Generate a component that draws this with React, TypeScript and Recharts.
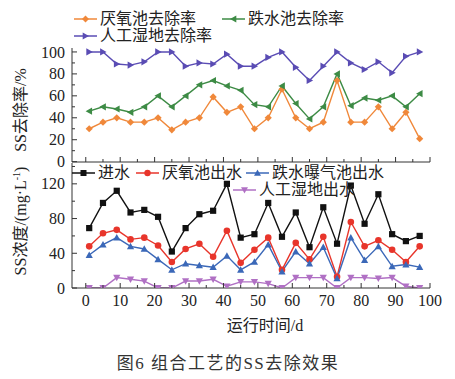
import { LineChart, Line, XAxis, YAxis } from 'recharts'

// sampling days (d)
const days = [1, 5, 9, 13, 17, 21, 25, 29, 33, 37, 41, 45, 49, 53, 57, 61, 65, 69, 73, 77, 81, 85, 89, 93, 97]

// removal rate, %
const anaerobicRate = [30, 36, 40, 36, 36, 40, 29, 36, 40, 59, 45, 50, 30, 40, 66, 40, 30, 36, 74, 36, 36, 50, 30, 45, 21]
const dropRate = [46, 50, 48, 45, 50, 60, 50, 60, 70, 74, 69, 65, 52, 50, 69, 53, 39, 50, 80, 51, 58, 56, 60, 50, 62]
const wetlandRate = [100, 100, 89, 88, 91, 100, 100, 87, 90, 89, 98, 87, 87, 95, 100, 86, 74, 87, 100, 90, 84, 91, 81, 96, 100]

// SS concentration, mg/L
const inflow = [69, 98, 112, 87, 90, 82, 42, 69, 85, 89, 120, 58, 62, 98, 59, 87, 47, 93, 51, 118, 74, 108, 62, 54, 60]
const anaerobicOut = [48, 63, 67, 56, 58, 49, 30, 45, 51, 36, 66, 29, 44, 58, 21, 52, 33, 59, 13, 76, 48, 55, 44, 30, 48]
const dropOut = [38, 50, 58, 48, 45, 33, 21, 28, 26, 24, 37, 21, 30, 50, 19, 42, 28, 47, 11, 58, 32, 48, 25, 27, 24]
const wetlandOut = [0, 0, 12, 10, 8, 0, 0, 8, 8, 10, 2, 7, 7, 5, 0, 12, 12, 12, 0, 12, 12, 11, 12, 2, 0]

const xTicks = [0, 5, 10, 15, 20, 25, 30, 35, 40, 45, 50, 55, 60, 65, 70, 75, 80, 85, 90, 95, 100]
const rateTicks = [0, 10, 20, 30, 40, 50, 60, 70, 80, 90, 100]
const concTicks = [0, 20, 40, 60, 80, 100, 120, 140]

const rateData = days.map((d, i) => ({ day: d, anaerobic: anaerobicRate[i], drop: dropRate[i], wetland: wetlandRate[i] }))
const concData = days.map((d, i) => ({ day: d, inflow: inflow[i], anaerobic: anaerobicOut[i], drop: dropOut[i], wetland: wetlandOut[i] }))

const FONT = 'Liberation Serif, DejaVu Serif, serif, Noto Sans CJK SC'
const TXT = '#222'
const AXIS = '#333'

const C = {
  orange: '#f0883a',
  green: '#3d8b45',
  purple: '#5a4cb4',
  black: '#111111',
  red: '#e8352b',
  blue: '#3b68b8',
  violet: '#b070c4'
}

function Marker({ shape, cx, cy, color, s = 3.6 }: any) {
  if (cx == null || cy == null) return null
  switch (shape) {
    case 'diamond':
      return <polygon points={`${cx},${cy - s} ${cx + s},${cy} ${cx},${cy + s} ${cx - s},${cy}`} fill={color} />
    case 'square':
      return <rect x={cx - s + 0.5} y={cy - s + 0.5} width={2 * s - 1} height={2 * s - 1} fill={color} />
    case 'circle':
      return <circle cx={cx} cy={cy} r={s - 0.3} fill={color} />
    case 'up':
      return <polygon points={`${cx},${cy - s} ${cx + s},${cy + s * 0.8} ${cx - s},${cy + s * 0.8}`} fill={color} />
    case 'down':
      return <polygon points={`${cx},${cy + s} ${cx + s},${cy - s * 0.8} ${cx - s},${cy - s * 0.8}`} fill={color} />
    case 'left':
      return <polygon points={`${cx - s},${cy} ${cx + s * 0.8},${cy - s} ${cx + s * 0.8},${cy + s}`} fill={color} />
    case 'right':
      return <polygon points={`${cx + s},${cy} ${cx - s * 0.8},${cy - s} ${cx - s * 0.8},${cy + s}`} fill={color} />
  }
  return null
}

const dot = (shape: string, color: string) => (p: any) => (
  <g key={`d-${shape}-${p.index}`}>
    <Marker shape={shape} cx={p.cx} cy={p.cy} color={color} />
  </g>
)

const xTick = (showLabel: boolean) => (p: any) => {
  const v = p.payload.value
  const major = v % 10 === 0
  return (
    <g>
      <line x1={p.x} y1={p.y} x2={p.x} y2={p.y - (major ? 5 : 3)} stroke={AXIS} />
      {showLabel && major && (
        <text x={p.x} y={p.y + 18} textAnchor="middle" fontSize={16} fontFamily={FONT} fill={TXT}>{v}</text>
      )}
    </g>
  )
}

const yTick = (step: number) => (p: any) => {
  const v = p.payload.value
  const major = v % step === 0
  return (
    <g>
      <line x1={p.x} y1={p.y} x2={p.x + (major ? 5 : 3)} y2={p.y} stroke={AXIS} />
      {major && (
        <text x={p.x - 7} y={p.y} dy="0.35em" textAnchor="end" fontSize={16} fontFamily={FONT} fill={TXT}>{String(v)}</text>
      )}
    </g>
  )
}

const topLegend = [
  { name: '厌氧池去除率', color: C.orange, shape: 'diamond', left: 74, cy: 19 },
  { name: '跌水池去除率', color: C.green, shape: 'left', left: 222, cy: 19 },
  { name: '人工湿地去除率', color: C.purple, shape: 'right', left: 74, cy: 36 }
]
const bottomLegend = [
  { name: '进水', color: C.black, shape: 'square', left: 72, cy: 173 },
  { name: '厌氧池出水', color: C.red, shape: 'circle', left: 136, cy: 173 },
  { name: '跌水曝气池出水', color: C.blue, shape: 'up', left: 246, cy: 173 },
  { name: '人工湿地出水', color: C.violet, shape: 'down', left: 233, cy: 190 }
]

function LegendItem({ item }: any) {
  return (
    <div style={{ position: 'absolute', left: item.left, top: item.cy - 10, height: 20, display: 'flex', alignItems: 'center', whiteSpace: 'nowrap' }}>
      <svg width={23} height={12}>
        <line x1={0} y1={6} x2={23} y2={6} stroke={item.color} strokeWidth={1.5} />
        <Marker shape={item.shape} cx={11.5} cy={6} color={item.color} s={3.5} />
      </svg>
      <span style={{ marginLeft: 3, fontSize: 16, fontFamily: FONT, color: TXT, lineHeight: '20px' }}>{item.name}</span>
    </div>
  )
}

export default function App() {
  return (
    <div style={{ position: 'absolute', left: 0, top: 0, width: 455, height: 379, background: '#fff', overflow: 'hidden' }}>
      <div style={{ position: 'absolute', left: 0, top: 0 }}>
        <LineChart width={455} height={379} data={concData} margin={{ top: 163, right: 25, bottom: 90, left: 71 }}>
          <XAxis dataKey="day" type="number" domain={[-4, 100]} ticks={xTicks} interval={0} height={1}
            tickSize={0} tickMargin={0} tick={xTick(true)} axisLine={{ stroke: AXIS }} allowDataOverflow />
          <YAxis type="number" domain={[0, 144]} ticks={concTicks} interval={0} width={1}
            tickSize={0} tickMargin={0} tick={yTick(40)} axisLine={{ stroke: AXIS }} allowDataOverflow />
          <Line dataKey="inflow" stroke={C.black} strokeWidth={1.4} dot={dot('square', C.black)} isAnimationActive={false} />
          <Line dataKey="anaerobic" stroke={C.red} strokeWidth={1.4} dot={dot('circle', C.red)} isAnimationActive={false} />
          <Line dataKey="drop" stroke={C.blue} strokeWidth={1.4} dot={dot('up', C.blue)} isAnimationActive={false} />
          <Line dataKey="wetland" stroke={C.violet} strokeWidth={1.4} dot={dot('down', C.violet)} isAnimationActive={false} />
        </LineChart>
      </div>
      <div style={{ position: 'absolute', left: 0, top: 0 }}>
        <LineChart width={455} height={379} data={rateData} margin={{ top: 48, right: 25, bottom: 216, left: 71 }}>
          <XAxis dataKey="day" type="number" domain={[-4, 100]} ticks={xTicks} interval={0} height={1}
            tickSize={0} tickMargin={0} tick={xTick(false)} axisLine={{ stroke: AXIS }} allowDataOverflow />
          <YAxis type="number" domain={[-0.3, 103.6]} ticks={rateTicks} interval={0} width={1}
            tickSize={0} tickMargin={0} tick={yTick(20)} axisLine={{ stroke: AXIS }} allowDataOverflow />
          <Line dataKey="anaerobic" stroke={C.orange} strokeWidth={1.4} dot={dot('diamond', C.orange)} isAnimationActive={false} />
          <Line dataKey="drop" stroke={C.green} strokeWidth={1.4} dot={dot('left', C.green)} isAnimationActive={false} />
          <Line dataKey="wetland" stroke={C.purple} strokeWidth={1.4} dot={dot('right', C.purple)} isAnimationActive={false} />
        </LineChart>
      </div>
      {topLegend.map(it => <LegendItem key={it.name} item={it} />)}
      {bottomLegend.map(it => <LegendItem key={it.name} item={it} />)}
      <svg width={455} height={379} style={{ position: 'absolute', left: 0, top: 0, pointerEvents: 'none' }}>
        <text transform="translate(26,110) rotate(-90)" textAnchor="middle" fontSize={16} fontFamily={FONT} fill={TXT}>SS去除率/%</text>
        <text transform="translate(26,221) rotate(-90)" textAnchor="middle" fontSize={16} fontFamily={FONT} fill={TXT}>
          SS浓度/(mg·L<tspan dy={-6} fontSize={10}>-1</tspan><tspan dy={6}>)</tspan>
        </text>
        <text x={265} y={331} textAnchor="middle" fontSize={16} fontFamily={FONT} fill={TXT}>运行时间/d</text>
        <text x={228} y={369} textAnchor="middle" fontSize={17} letterSpacing={1.5} fontFamily={FONT} fill="#333">图6  组合工艺的SS去除效果</text>
      </svg>
    </div>
  )
}
